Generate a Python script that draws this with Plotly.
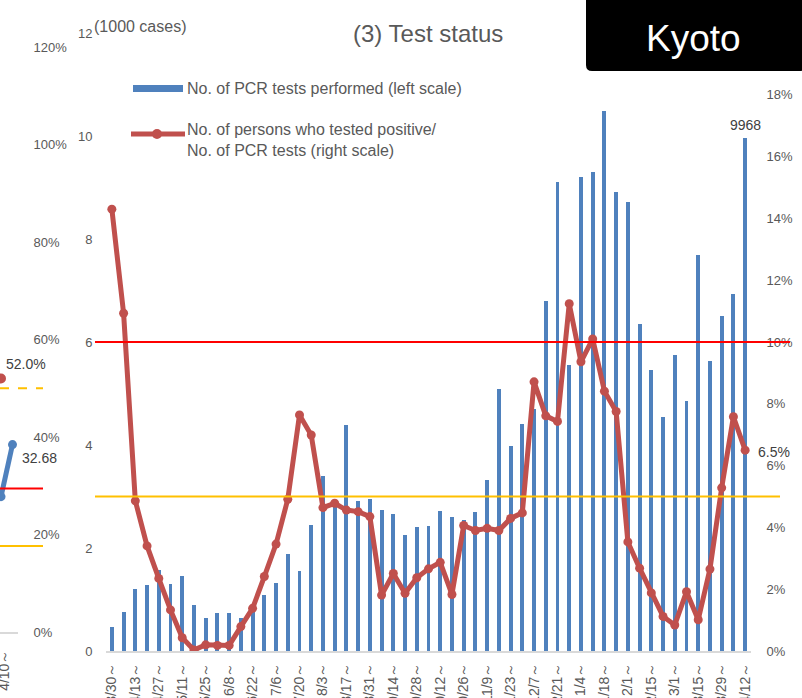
import plotly.graph_objects as go

W, H = 802, 698

# ---- data -----------------------------------------------------------------
weeks = [
    "3/30～", "4/6～", "4/13～", "4/20～", "4/27～", "5/4～", "5/11～", "5/18～",
    "5/25～", "6/1～", "6/8～", "6/15～", "6/22～", "6/29～", "7/6～", "7/13～",
    "7/20～", "7/27～", "8/3～", "8/10～", "8/17～", "8/24～", "8/31～", "9/7～",
    "9/14～", "9/21～", "9/28～", "10/5～", "10/12～", "10/19～", "10/26～", "11/2～",
    "11/9～", "11/16～", "11/23～", "11/30～", "12/7～", "12/14～", "12/21～", "12/28～",
    "1/4～", "1/11～", "1/18～", "1/25～", "2/1～", "2/8～", "2/15～", "2/22～",
    "3/1～", "3/8～", "3/15～", "3/22～", "3/29～", "4/5～", "4/12～",
]

# PCR tests performed per week (thousand cases)
pcr_tests = [
    0.46, 0.76, 1.20, 1.28, 1.58, 1.30, 1.45, 0.89, 0.65, 0.73,
    0.73, 0.65, 0.75, 1.09, 1.33, 1.88, 1.55, 2.45, 3.39, 2.85,
    4.39, 2.91, 2.95, 2.73, 2.66, 2.25, 2.41, 2.43, 2.72, 2.61,
    2.55, 2.70, 3.32, 5.09, 3.99, 4.40, 4.70, 6.80, 9.10, 5.55,
    9.20, 9.30, 10.49, 8.91, 8.71, 6.35, 5.45, 4.55, 5.74, 4.85,
    7.69, 5.63, 6.50, 6.93, 9.968,
]

# positives / PCR tests (%)
positivity = [
    14.30, 10.93, 4.86, 3.40, 2.35, 1.33, 0.43, 0.03, 0.20, 0.18,
    0.18, 0.79, 1.38, 2.41, 3.46, 4.91, 7.64, 6.99, 4.64, 4.78,
    4.56, 4.51, 4.35, 1.81, 2.51, 1.87, 2.37, 2.66, 2.87, 1.83,
    4.06, 3.90, 3.97, 3.90, 4.29, 4.47, 8.71, 7.61, 7.43, 11.24,
    9.36, 10.10, 8.41, 7.75, 3.53, 2.68, 1.88, 1.12, 0.84, 1.92,
    1.01, 2.65, 5.28, 7.58, 6.50,
]

left_ticks = [0, 2, 4, 6, 8, 10, 12]
right_ticks = [0, 2, 4, 6, 8, 10, 12, 14, 16, 18]
positivity_red_level = 10      # %
positivity_yellow_level = 5    # %

# neighbouring panel (cut at the page edge)
prev_weeks = ["4/3～", "4/10～"]
prev_cases = [23.6, 32.68]
prev_bed_rate = [52.0]
prev_pct_ticks = [0, 20, 40, 60, 80, 100, 120]
prev_cases_red, prev_cases_yellow = 25, 15
prev_bed_yellow = 50

GREY = "#595959"
BLUE = "#4F81BD"
RED = "#C0504D"
FONT = "Arial"


def px(x):
    return x / W


def py(y):
    return 1 - y / H


fig = go.Figure()

fig.add_trace(go.Bar(
    x=weeks, y=pcr_tests, width=0.34, marker=dict(color=BLUE, line=dict(width=0)),
    xaxis="x", yaxis="y", name="No. of PCR tests performed (left scale)",
))
fig.add_trace(go.Scatter(
    x=weeks, y=[v / 100 for v in positivity], mode="lines+markers",
    line=dict(color=RED, width=5), marker=dict(color=RED, size=9),
    xaxis="x", yaxis="y2", name="Positivity (right scale)",
))

# neighbouring panel traces
fig.add_trace(go.Scatter(
    x=prev_weeks, y=prev_cases, mode="lines+markers",
    line=dict(color=BLUE, width=5), marker=dict(color=BLUE, size=9),
    xaxis="x3", yaxis="y4",
))
fig.add_trace(go.Scatter(
    x=prev_weeks[:1], y=[v / 100 for v in prev_bed_rate], mode="markers",
    marker=dict(color=RED, size=10), xaxis="x3", yaxis="y3",
))

tickfont = dict(family=FONT, size=13, color=GREY)

fig.update_layout(
    width=W, height=H, autosize=False,
    margin=dict(l=0, r=0, t=0, b=0),
    paper_bgcolor="white", plot_bgcolor="rgba(0,0,0,0)",
    showlegend=False,
    bargap=0,
    xaxis=dict(
        domain=[px(106), px(751)], type="category", categoryarray=weeks,
        range=[-0.5, len(weeks) - 0.5], anchor="y",
        tickvals=weeks[::2], ticktext=weeks[::2], tickangle=-90,
        tickfont=dict(family=FONT, size=14, color=GREY),
        showline=True, linecolor="#D9D9D9", linewidth=2,
        ticks="outside", ticklen=4, tickcolor="rgba(0,0,0,0)",
        showgrid=False, automargin=False,
    ),
    yaxis=dict(
        domain=[py(651), py(33)], range=[0, 12], tickvals=left_ticks,
        tickfont=tickfont, showgrid=False, zeroline=False,
        ticks="outside", ticklen=10, tickcolor="rgba(0,0,0,0)", automargin=False,
    ),
    yaxis2=dict(
        overlaying="y", side="right", anchor="x", range=[0, 0.2],
        tickvals=[t / 100 for t in right_ticks], tickformat=".0%",
        tickfont=tickfont, showgrid=False, zeroline=False,
        ticks="outside", ticklen=12, tickcolor="rgba(0,0,0,0)", automargin=False,
    ),
    xaxis3=dict(
        domain=[0, px(18)], type="category", categoryarray=prev_weeks,
        range=[-0.087, -0.087 + 18 / 11.5], anchor="y3",
        tickvals=prev_weeks[1:], ticktext=prev_weeks[1:], tickangle=-90,
        ticklabelshift=-8,
        tickfont=dict(family=FONT, size=14, color=GREY),
        showline=True, linecolor="#D9D9D9", linewidth=2,
        ticks="outside", ticklen=10, tickcolor="rgba(0,0,0,0)",
        showgrid=False, automargin=False,
    ),
    yaxis3=dict(
        domain=[py(632), py(47)], anchor="x3", side="right", range=[0, 1.2],
        tickvals=[t / 100 for t in prev_pct_ticks], tickformat=".0%",
        tickfont=tickfont, showgrid=False, zeroline=False,
        ticks="outside", ticklen=12, tickcolor="rgba(0,0,0,0)", automargin=False,
    ),
    yaxis4=dict(
        overlaying="y3", anchor="x3", range=[0, 102], visible=False,
    ),
)

shapes = [
    # thresholds of the main panel
    dict(type="line", xref="paper", yref="y2", x0=px(95), x1=px(790),
         y0=positivity_red_level / 100, y1=positivity_red_level / 100,
         line=dict(color="#FF0000", width=2)),
    dict(type="line", xref="paper", yref="y2", x0=px(95), x1=px(780),
         y0=positivity_yellow_level / 100, y1=positivity_yellow_level / 100,
         line=dict(color="#FFC000", width=2)),
    # thresholds of the neighbouring panel
    dict(type="line", xref="paper", yref="y4", x0=0, x1=px(43),
         y0=prev_cases_red, y1=prev_cases_red, line=dict(color="#FF0000", width=2)),
    dict(type="line", xref="paper", yref="y4", x0=0, x1=px(43),
         y0=prev_cases_yellow, y1=prev_cases_yellow, line=dict(color="#FFC000", width=2)),
    dict(type="line", xref="paper", yref="y3", x0=0, x1=px(43),
         y0=prev_bed_yellow / 100, y1=prev_bed_yellow / 100,
         line=dict(color="#FFC000", width=2, dash="dash")),
    # legend symbols
    dict(type="rect", xref="paper", yref="paper", x0=px(133), x1=px(183),
         y0=py(92), y1=py(85), fillcolor=BLUE, line=dict(width=0)),
    dict(type="line", xref="paper", yref="paper", x0=px(131), x1=px(185),
         y0=py(134), y1=py(134), line=dict(color=RED, width=5)),
    dict(type="circle", xref="paper", yref="paper", x0=px(152), x1=px(162),
         y0=py(139), y1=py(129), fillcolor=RED, line=dict(width=0)),
    # prefecture name box
    dict(type="path", xref="paper", yref="paper",
         path=(f"M {px(586)},{py(-5)} L {px(806)},{py(-5)} L {px(806)},{py(65)} "
               f"Q {px(806)},{py(71)} {px(800)},{py(71)} L {px(592)},{py(71)} "
               f"Q {px(586)},{py(71)} {px(586)},{py(65)} Z"),
         fillcolor="black", line=dict(width=0)),
]
fig.update_layout(shapes=shapes)

ann = [
    dict(text="(3) Test status", x=px(428), y=py(33), xref="paper", yref="paper",
         showarrow=False, font=dict(family=FONT, size=24, color=GREY),
         xanchor="center", yanchor="middle"),
    dict(text="Kyoto", x=px(693), y=py(38), xref="paper", yref="paper",
         showarrow=False, font=dict(family=FONT, size=37, color="white"),
         xanchor="center", yanchor="middle"),
    dict(text="(1000 cases)", x=px(92), y=py(26), xref="paper", yref="paper",
         showarrow=False, font=dict(family=FONT, size=16, color=GREY),
         xanchor="left", yanchor="middle"),
    dict(text="No. of PCR tests performed (left scale)", x=px(185), y=py(89),
         xref="paper", yref="paper", showarrow=False,
         font=dict(family=FONT, size=16, color=GREY), xanchor="left", yanchor="middle"),
    dict(text="No. of persons who tested positive/<br>No. of PCR tests (right scale)",
         x=px(185), y=py(140), xref="paper", yref="paper", showarrow=False,
         font=dict(family=FONT, size=16, color=GREY), xanchor="left", yanchor="middle",
         align="left"),
    dict(text=f"{round(pcr_tests[-1] * 1000)}", x=weeks[-1], y=pcr_tests[-1],
         xref="x", yref="y", showarrow=False, yanchor="bottom", yshift=3,
         font=dict(family=FONT, size=14, color="#404040")),
    dict(text=f"{positivity[-1]:.1f}%", x=weeks[-1], y=positivity[-1] / 100,
         xref="x", yref="y2", showarrow=False, xanchor="left", xshift=11, yshift=-2,
         font=dict(family=FONT, size=14, color="#404040")),
    dict(text=f"{prev_bed_rate[0]:.1f}%", x=prev_weeks[0], y=prev_bed_rate[0] / 100,
         xref="x3", yref="y3", showarrow=False, xanchor="left", xshift=3, yshift=15,
         font=dict(family=FONT, size=14, color="#404040")),
    dict(text=f"{prev_cases[-1]:.2f}", x=prev_weeks[-1], y=prev_cases[-1],
         xref="x3", yref="y4", showarrow=False, xanchor="left", xshift=7, yshift=-13,
         font=dict(family=FONT, size=14, color="#404040")),
]
fig.update_layout(annotations=ann)

fig.write_html("out.html")
